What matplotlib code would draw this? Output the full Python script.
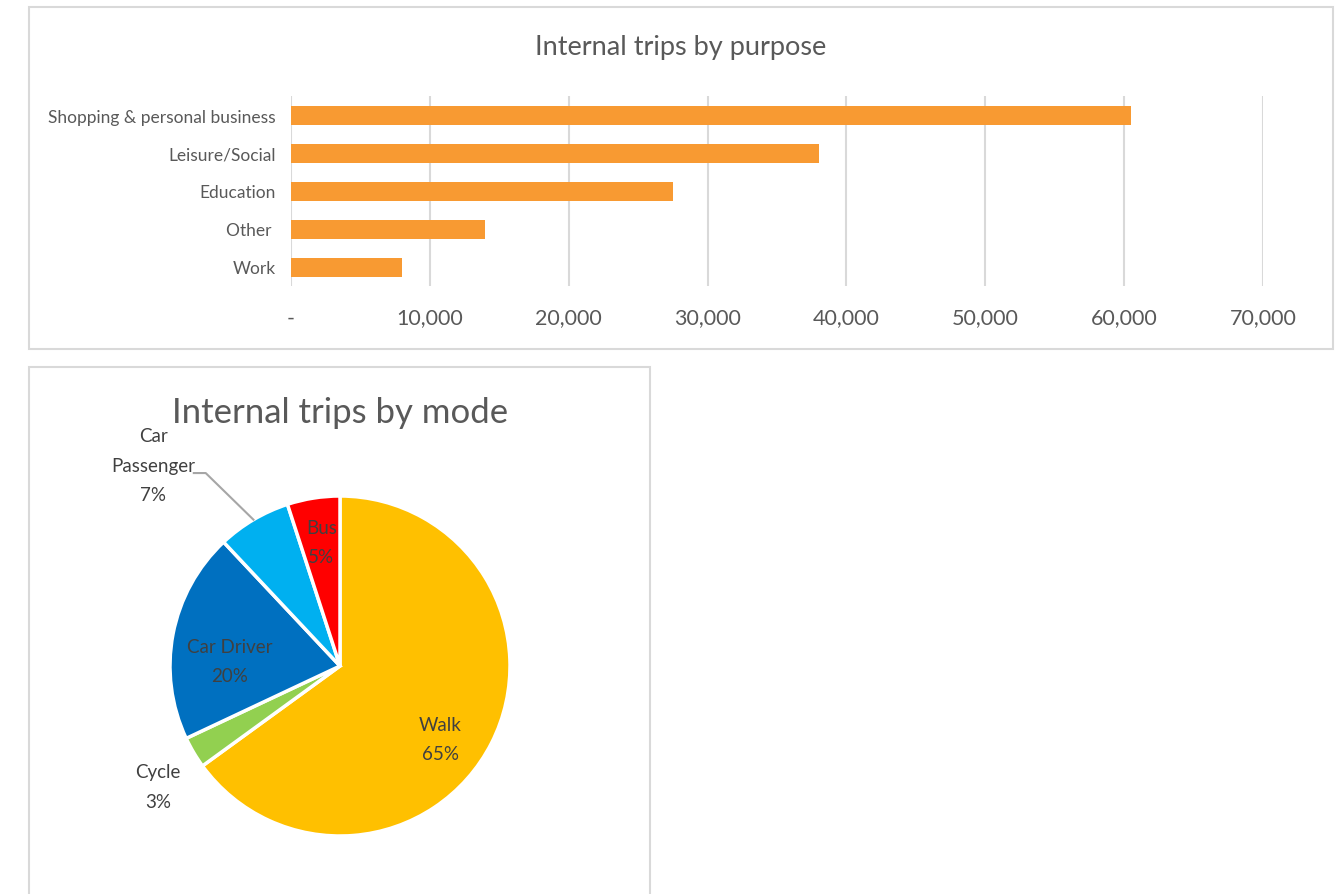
import matplotlib.pyplot as plt
from matplotlib.patches import Rectangle
from matplotlib.ticker import FuncFormatter
import numpy as np

plt.rcParams['font.family'] = ['Lato', 'DejaVu Sans']

# trips by purpose
purposes = ["Shopping & personal business", "Leisure/Social", "Education", "Other ", "Work"]
purpose_trips = [60500, 38000, 27500, 14000, 8000]

# trips by mode (%)
modes = ["Walk", "Cycle", "Car Driver", "Car Passenger", "Bus"]
mode_share = [65, 3, 20, 7, 5]
mode_colors = ["#FFC000", "#92D050", "#0070C0", "#00B0F0", "#FF0000"]

TEXT = "#595959"
GRID = "#D9D9D9"
W, H = 1341, 895

fig = plt.figure(figsize=(W / 100, H / 100), dpi=100)


def px_box(x0, y0, x1, y1):
    # pixel box (top-left origin) -> figure fraction rect
    return [x0 / W, 1 - y1 / H, (x1 - x0) / W, (y1 - y0) / H]


# panel frames
for x0, y0, x1, y1 in [(29, 8, 1333, 350), (29, 368, 650, 900)]:
    fig.patches.append(Rectangle((x0 / W, 1 - y1 / H), (x1 - x0) / W, (y1 - y0) / H,
                                 transform=fig.transFigure, fill=False,
                                 edgecolor=GRID, linewidth=1.5))

# ---- bar chart ----
ax = fig.add_axes(px_box(291, 97, 1263, 287))
ypos = np.arange(len(purposes))
ax.barh(ypos, purpose_trips, height=0.5, color="#F89A32", zorder=3)
ax.set_xlim(0, 70000)
ax.set_ylim(len(purposes) - 0.5, -0.5)
ax.set_xticks(np.arange(0, 70001, 10000))
ax.xaxis.set_major_formatter(FuncFormatter(lambda v, p: "-" if v == 0 else f"{int(v):,}"))
ax.set_yticks(ypos)
ax.set_yticklabels(purposes)
ax.tick_params(axis="x", length=0, pad=15.5, labelsize=15.5, labelcolor=TEXT)
ax.tick_params(axis="y", length=0, pad=11, labelsize=12.5, labelcolor=TEXT)
ax.grid(axis="x", color=GRID, linewidth=1.5, zorder=0)
for s in ax.spines.values():
    s.set_visible(False)
fig.text(681 / W, 1 - 48 / H, "Internal trips by purpose", ha="center", va="center",
         fontsize=19.5, color=TEXT)

# ---- pie chart ----
pax = fig.add_axes(px_box(170, 497, 510, 837))
pax.pie(mode_share, colors=mode_colors, startangle=90, counterclock=False,
        wedgeprops=dict(edgecolor="white", linewidth=2.5))
pax.set_xlim(-1, 1)
pax.set_ylim(-1, 1)
pax.set_aspect("equal")
pax.axis("off")

# label spots in pie units
label_xy = [(0.59, -0.43), (-1.07, -0.71), (-0.65, 0.03), (-1.1, 1.18), (-0.11, 0.73)]
for name, share, (lx, ly) in zip(modes, mode_share, label_xy):
    txt = f"{name}\n{share}%"
    if name == "Car Passenger":
        txt = f"Car\nPassenger\n{share}%"
    pax.text(lx, ly, txt, ha="center", va="center", fontsize=13.5,
             color="#404040", linespacing=1.9, clip_on=False)

# leader for car passenger
cum = np.cumsum(mode_share)
mid = (cum[3] - mode_share[3] / 2) / sum(mode_share)
ang = np.deg2rad(90 - mid * 360)
pax.plot([-0.86, -0.79, np.cos(ang)], [1.135, 1.135, np.sin(ang)],
         color="#A6A6A6", linewidth=1.5, clip_on=False)

fig.text(340 / W, 1 - 413 / H, "Internal trips by mode", ha="center", va="center",
         fontsize=25, color=TEXT)

fig.savefig("out.png", dpi=100)
